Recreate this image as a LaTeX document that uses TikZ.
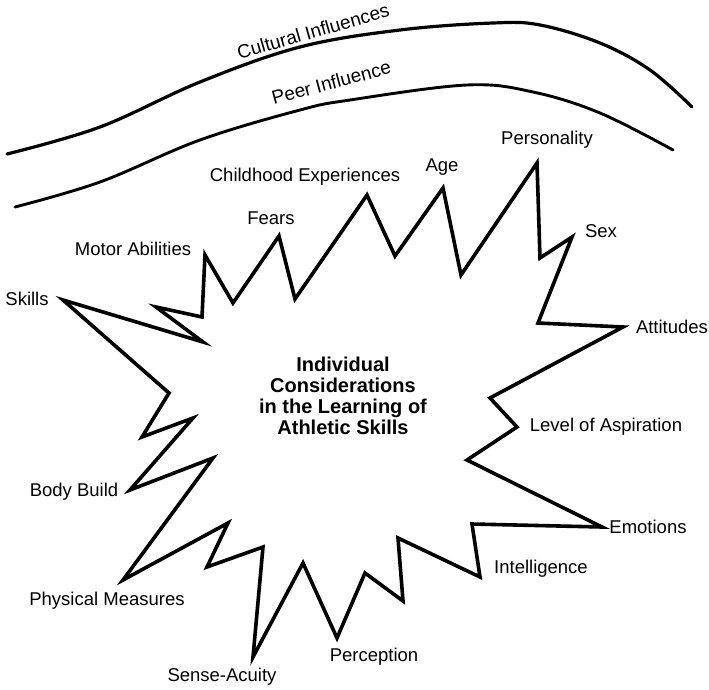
\documentclass[tikz,border=0pt]{standalone}
\usepackage{fontspec}
\setmainfont{Liberation Sans}
\begin{document}
\begin{tikzpicture}[x=1pt,y=-1pt,
  lab/.style={font=\fontsize{18.5}{20}\selectfont, inner sep=0pt},
  curvelab/.style={font=\fontsize{19}{20}\selectfont, inner sep=0pt, anchor=base},
  burst/.style={line width=3.6pt, line join=miter},
  band/.style={line width=3.2pt, line cap=round}]
\useasboundingbox (0,0) rectangle (709,690);

% influence bands
\draw[band] plot[smooth, tension=0.6] coordinates {(7,154) (100,127) (200,82) (300,47) (400,30) (493,23) (540,25) (600,43) (650,70) (692,107)};
\draw[band, line width=2.9pt] plot[smooth, tension=0.6] coordinates {(15,207) (100,182) (200,140) (300,110) (350,100) (467,85) (533,92) (600,113) (673,150)};
\node[curvelab, rotate=16] (cult) at (315,38) {Cultural Influences};
\node[curvelab, rotate=15] (peer) at (333,89) {Peer Influence};

% starburst
\draw[burst] (63,300) -- (203,342) -- (156,307) -- (202,317) -- (205,255) -- (233,303)
  -- (279,236) -- (295,299) -- (367,195) -- (395,256) -- (443,188) -- (461,275)
  -- (537,163) -- (540,258) -- (572,237) -- (538,323) -- (623,327) -- (490,398)
  -- (517,427) -- (467,460) -- (602,527) -- (472,524) -- (480,577) -- (398,538)
  -- (403,601) -- (365,573) -- (337,638) -- (303,563) -- (253,657) -- (263,547)
  -- (207,567) -- (228,523) -- (123,580) -- (213,458) -- (130,490) -- (193,418)
  -- (142,437) -- (169,393) -- cycle;

% centre title
\node[font=\fontsize{20}{21}\selectfont\bfseries, align=center, inner sep=0pt] (title) at (343,396)
  {Individual\\Considerations\\in the Learning of\\Athletic Skills};

% labels
\node[lab] (skills) at (27,299) {Skills};
\node[lab] (motor) at (133,249) {Motor Abilities};
\node[lab] (fears) at (271,218) {Fears};
\node[lab] (child) at (305,177) {Childhood Experiences};
\node[lab] (age) at (442,167) {Age};
\node[lab] (pers) at (547,140) {Personality};
\node[lab] (sex) at (601,231) {Sex};
\node[lab] (att) at (672,327) {Attitudes};
\node[lab] (asp) at (606,427) {Level of Aspiration};
\node[lab] (emo) at (648,527) {Emotions};
\node[lab] (intel) at (541,569) {Intelligence};
\node[lab] (perc) at (374,657) {Perception};
\node[lab] (sense) at (222,677) {Sense-Acuity};
\node[lab] (phys) at (107,601) {Physical Measures};
\node[lab] (body) at (74,492) {Body Build};
\end{tikzpicture}
\end{document}
